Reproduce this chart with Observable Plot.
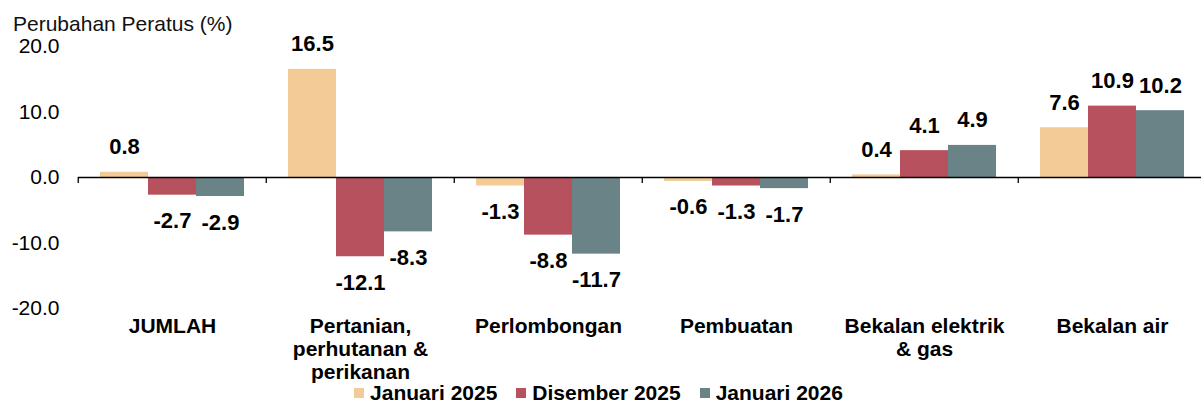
<!DOCTYPE html>
<html>
<head>
<meta charset="utf-8">
<script src="https://cdn.jsdelivr.net/npm/d3@7"></script>
<script src="https://cdn.jsdelivr.net/npm/@observablehq/plot@0.6"></script>
<style>
  html, body { margin: 0; padding: 0; background: #fff; }
  #wrap { position: relative; width: 1201px; font-family: "Liberation Sans", Arial, sans-serif; }
  #chart svg { overflow: visible; display: block; }
  #ytitle { position: absolute; left: 13px; top: 13px; font-size: 21px; line-height: 21px; color: #111; }
  #legend { display: flex; justify-content: center; align-items: center; gap: 19px; height: 21px; line-height: 21px;
            font-size: 21px; font-weight: bold; color: #000; margin-left: -4px; }
  #legend .item { display: flex; align-items: center; }
  #legend .sw { width: 10px; height: 10px; margin-right: 6px; }
</style>
</head>
<body>
<div id="wrap">
  <div id="chart"></div>
  <div id="ytitle">Perubahan Peratus (%)</div>
  <div id="legend"></div>
</div>
<script>
const categories = ["JUMLAH", "Pertanian,\nperhutanan &\nperikanan", "Perlombongan", "Pembuatan", "Bekalan elektrik\n& gas", "Bekalan air"];
const series = ["Januari 2025", "Disember 2025", "Januari 2026"];
const januari2025 = [0.8, 16.5, -1.3, -0.6, 0.4, 7.6];
const disember2025 = [-2.7, -12.1, -8.8, -1.3, 4.1, 10.9];
const januari2026 = [-2.9, -8.3, -11.7, -1.7, 4.9, 10.2];
const yTicks = [-20, -10, 0, 10, 20];
const colors = ["#F2CB97", "#B6515D", "#6A8387"];

const seriesValues = [januari2025, disember2025, januari2026];
const data = [];
categories.forEach((c, i) => {
  series.forEach((s, j) => data.push({category: c, series: s, value: seriesValues[j][i]}));
});

const width = 1201, height = 382;
const marginLeft = 76, marginRight = -6, marginTop = 46, marginBottom = 74;
const yDomain = [-20, 20];
const step = (width - marginLeft - marginRight) / categories.length;
const innerH = height - marginTop - marginBottom;
const yZero = marginTop + innerH * (yDomain[1] - 0) / (yDomain[1] - yDomain[0]);
const zeroShift = yZero - (height - marginBottom);

const fmt = d => d.toFixed(1);

const plot = Plot.plot({
  width, height, marginLeft, marginRight, marginTop, marginBottom,
  style: {fontFamily: "Liberation Sans, Arial, sans-serif", fontSize: "21px", color: "#000", background: "#fff", overflow: "visible"},
  fx: {domain: categories, padding: 0, label: null},
  x: {domain: series, paddingInner: 0, paddingOuter: 0.45, axis: null},
  y: {domain: yDomain, label: null},
  color: {domain: series, range: colors},
  marks: [
    Plot.barY(data, {fx: "category", x: "series", y: "value", fill: "series"}),
    Plot.ruleY([0], {stroke: "#000", strokeWidth: 1.3}),
    Plot.axisY({ticks: yTicks, tickSize: 0, tickPadding: 19, tickFormat: fmt, fontSize: 21, label: null}),
    Plot.axisFx({anchor: "bottom", tickSize: 0, tickPadding: 8, fontSize: 21, fontWeight: "bold", lineHeight: 1.1, label: null}),
    Plot.axisFx({anchor: "bottom", tickSize: 6, tickFormat: () => "", dx: -step / 2, dy: zeroShift, strokeWidth: 1.3, label: null}),
    Plot.text(data.filter(d => d.value >= 0), {fx: "category", x: "series", y: "value", text: d => fmt(d.value), dy: -25, fontSize: 22, fontWeight: "bold", fill: "#000"}),
    Plot.text(data.filter(d => d.value < 0), {fx: "category", x: "series", y: "value", text: d => fmt(d.value), dy: 26, fontSize: 22, fontWeight: "bold", fill: "#000"})
  ]
});
document.getElementById("chart").appendChild(plot);

const legend = document.getElementById("legend");
series.forEach((s, i) => {
  const item = document.createElement("div");
  item.className = "item";
  const sw = document.createElement("span");
  sw.className = "sw";
  sw.style.background = colors[i];
  const t = document.createElement("span");
  t.textContent = s;
  item.appendChild(sw);
  item.appendChild(t);
  legend.appendChild(item);
});
</script>
</body>
</html>
